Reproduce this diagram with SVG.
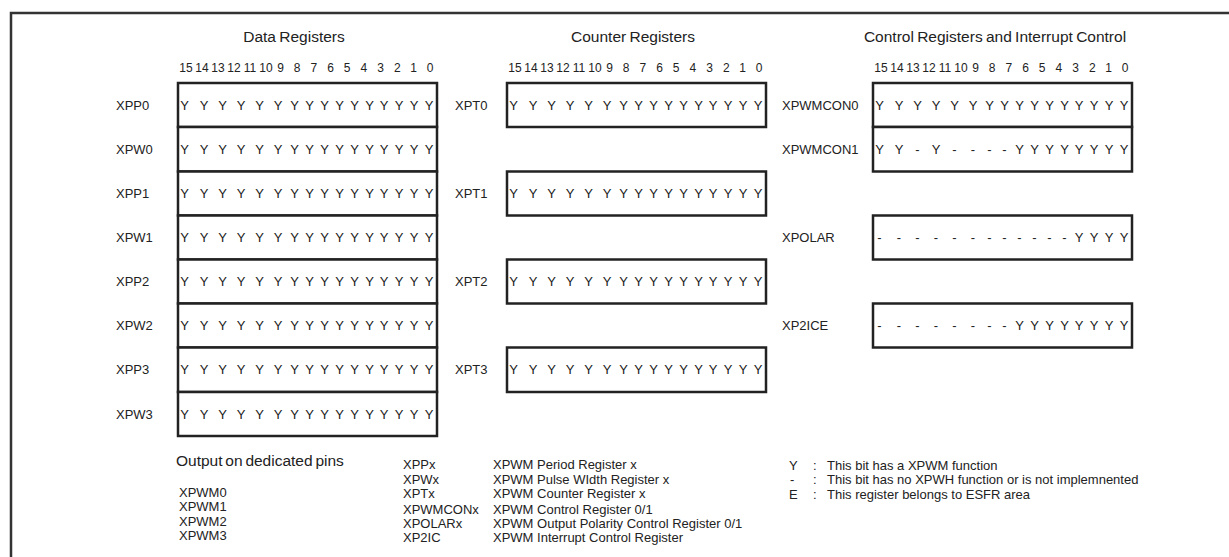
<svg xmlns="http://www.w3.org/2000/svg" width="1229" height="557" viewBox="0 0 1229 557">
<style>
text{font-family:"Liberation Sans",Arial,sans-serif;fill:#222}
.ttl{font-size:15.5px;text-anchor:middle;word-spacing:-1px}
.hdr{font-size:12px;text-anchor:middle}
.lbl{font-size:13px}
.bit{font-size:13px;text-anchor:middle}
.leg{font-size:13px}
.box{fill:#fff;stroke:#222;stroke-width:2.5}
.frame{fill:none;stroke:#333;stroke-width:2.5}
</style>
<defs>
<g id="hdrnums">
<text class="hdr" y="72"><tspan x="8">15</tspan><tspan x="24">14</tspan><tspan x="40">13</tspan><tspan x="56">12</tspan><tspan x="72">11</tspan><tspan x="88">10</tspan><tspan x="102.5">9</tspan><tspan x="119.2">8</tspan><tspan x="135.9">7</tspan><tspan x="152.5">6</tspan><tspan x="169.2">5</tspan><tspan x="185.9">4</tspan><tspan x="202.6">3</tspan><tspan x="219.3">2</tspan><tspan x="235.6">1</tspan><tspan x="252">0</tspan></text>
</g>
</defs>
<polyline class="frame" points="11,557 11,13 1229,13"/>

<g id="titles">
<text class="ttl" x="294" y="42">Data Registers</text>
<text class="ttl" x="633" y="42">Counter Registers</text>
<text class="ttl" x="995" y="42">Control Registers and Interrupt Control</text>
<use href="#hdrnums" x="178"/>
<use href="#hdrnums" x="507"/>
<use href="#hdrnums" x="873"/>
</g>

<g id="connectors"></g>

<!-- Data registers -->
<g id="XPP0"><text class="lbl" x="116" y="109.5">XPP0</text><rect class="box" x="178" y="83" width="259" height="44"/>
<text class="bit" y="109.5" x="184.5 204 222.5 241 259.5 278 294.5 309.5 324.5 339.5 354.5 369.5 384 399 414 429">YYYYYYYYYYYYYYYY</text></g>
<g id="XPW0"><text class="lbl" x="116" y="153.5">XPW0</text><rect class="box" x="178" y="127" width="259" height="44.5"/>
<text class="bit" y="153.5" x="184.5 204 222.5 241 259.5 278 294.5 309.5 324.5 339.5 354.5 369.5 384 399 414 429">YYYYYYYYYYYYYYYY</text></g>
<g id="XPP1"><text class="lbl" x="116" y="198">XPP1</text><rect class="box" x="178" y="171.5" width="259" height="44"/>
<text class="bit" y="198" x="184.5 204 222.5 241 259.5 278 294.5 309.5 324.5 339.5 354.5 369.5 384 399 414 429">YYYYYYYYYYYYYYYY</text></g>
<g id="XPW1"><text class="lbl" x="116" y="242">XPW1</text><rect class="box" x="178" y="215.5" width="259" height="44"/>
<text class="bit" y="242" x="184.5 204 222.5 241 259.5 278 294.5 309.5 324.5 339.5 354.5 369.5 384 399 414 429">YYYYYYYYYYYYYYYY</text></g>
<g id="XPP2"><text class="lbl" x="116" y="286">XPP2</text><rect class="box" x="178" y="259.5" width="259" height="44"/>
<text class="bit" y="286" x="184.5 204 222.5 241 259.5 278 294.5 309.5 324.5 339.5 354.5 369.5 384 399 414 429">YYYYYYYYYYYYYYYY</text></g>
<g id="XPW2"><text class="lbl" x="116" y="330">XPW2</text><rect class="box" x="178" y="303.5" width="259" height="44"/>
<text class="bit" y="330" x="184.5 204 222.5 241 259.5 278 294.5 309.5 324.5 339.5 354.5 369.5 384 399 414 429">YYYYYYYYYYYYYYYY</text></g>
<g id="XPP3"><text class="lbl" x="116" y="374">XPP3</text><rect class="box" x="178" y="347.5" width="259" height="44.5"/>
<text class="bit" y="374" x="184.5 204 222.5 241 259.5 278 294.5 309.5 324.5 339.5 354.5 369.5 384 399 414 429">YYYYYYYYYYYYYYYY</text></g>
<g id="XPW3"><text class="lbl" x="116" y="418.5">XPW3</text><rect class="box" x="178" y="392" width="259" height="44"/>
<text class="bit" y="418.5" x="184.5 204 222.5 241 259.5 278 294.5 309.5 324.5 339.5 354.5 369.5 384 399 414 429">YYYYYYYYYYYYYYYY</text></g>

<!-- Counter registers -->
<g id="XPT0"><text class="lbl" x="455" y="109.5">XPT0</text><rect class="box" x="507" y="83" width="259" height="44"/>
<text class="bit" y="109.5" x="513.5 533 551.5 570 588.5 607 623.5 638.5 653.5 668.5 683.5 698.5 713 728 743 758">YYYYYYYYYYYYYYYY</text></g>
<g id="XPT1"><text class="lbl" x="455" y="198">XPT1</text><rect class="box" x="507" y="171.5" width="259" height="44"/>
<text class="bit" y="198" x="513.5 533 551.5 570 588.5 607 623.5 638.5 653.5 668.5 683.5 698.5 713 728 743 758">YYYYYYYYYYYYYYYY</text></g>
<g id="XPT2"><text class="lbl" x="455" y="286">XPT2</text><rect class="box" x="507" y="259.5" width="259" height="44"/>
<text class="bit" y="286" x="513.5 533 551.5 570 588.5 607 623.5 638.5 653.5 668.5 683.5 698.5 713 728 743 758">YYYYYYYYYYYYYYYY</text></g>
<g id="XPT3"><text class="lbl" x="455" y="374">XPT3</text><rect class="box" x="507" y="347.5" width="259" height="44.5"/>
<text class="bit" y="374" x="513.5 533 551.5 570 588.5 607 623.5 638.5 653.5 668.5 683.5 698.5 713 728 743 758">YYYYYYYYYYYYYYYY</text></g>

<!-- Control registers -->
<g id="XPWMCON0"><text class="lbl" x="782" y="109.5">XPWMCON0</text><rect class="box" x="873" y="83" width="259" height="44"/>
<text class="bit" y="109.5" x="879.5 899 917.5 936 954.5 973 989.5 1004.5 1019.5 1034.5 1049.5 1064.5 1079 1094 1109 1124">YYYYYYYYYYYYYYYY</text></g>
<g id="XPWMCON1"><text class="lbl" x="782" y="153.5">XPWMCON1</text><rect class="box" x="873" y="127" width="259" height="44.5"/>
<text class="bit" y="153.5" x="879.5 899 917.5 936 954.5 973 989.5 1004.5 1019.5 1034.5 1049.5 1064.5 1079 1094 1109 1124">YY-Y----YYYYYYYY</text></g>
<g id="XPOLAR"><text class="lbl" x="782" y="242">XPOLAR</text><rect class="box" x="873" y="215.5" width="259" height="44"/>
<text class="bit" y="242" x="879.5 899 917.5 936 954.5 973 989.5 1004.5 1019.5 1034.5 1049.5 1064.5 1079 1094 1109 1124">------------YYYY</text></g>
<g id="XP2ICE"><text class="lbl" x="782" y="330">XP2ICE</text><rect class="box" x="873" y="303.5" width="259" height="44"/>
<text class="bit" y="330" x="879.5 899 917.5 936 954.5 973 989.5 1004.5 1019.5 1034.5 1049.5 1064.5 1079 1094 1109 1124">--------YYYYYYYY</text></g>

<!-- Legend -->
<g id="legend-pins">
<text x="176" y="466" style="font-size:15.5px;word-spacing:-1.5px">Output on dedicated pins</text>
<text class="lbl" x="179" y="497">XPWM0</text>
<text class="lbl" x="179" y="511">XPWM1</text>
<text class="lbl" x="179" y="525.5">XPWM2</text>
<text class="lbl" x="179" y="540">XPWM3</text>
</g>
<g id="legend-abbr">
<text class="lbl" x="403" y="469">XPPx</text>
<text class="lbl" x="403" y="483.5">XPWx</text>
<text class="lbl" x="403" y="497.5">XPTx</text>
<text class="lbl" x="403" y="514">XPWMCONx</text>
<text class="lbl" x="403" y="527.5">XPOLARx</text>
<text class="lbl" x="403" y="542">XP2IC</text>
<text class="leg" x="493" y="469">XPWM Period Register x</text>
<text class="leg" x="493" y="483.5">XPWM Pulse WIdth Register x</text>
<text class="leg" x="493" y="497.5">XPWM Counter Register x</text>
<text class="leg" x="493" y="514">XPWM Control Register 0/1</text>
<text class="leg" x="493" y="527.5">XPWM Output Polarity Control Register 0/1</text>
<text class="leg" x="493" y="542">XPWM Interrupt Control Register</text>
</g>
<g id="legend-symbols">
<text class="lbl" x="789" y="469.5">Y</text>
<text class="lbl" x="790" y="484">-</text>
<text class="lbl" x="789" y="498.5">E</text>
<text class="lbl" x="813" y="469.5">:</text>
<text class="lbl" x="813" y="484">:</text>
<text class="lbl" x="813" y="498.5">:</text>
<text class="leg" x="827" y="469.5">This bit has a XPWM function</text>
<text class="leg" x="827" y="484">This bit has no XPWH function or is not implemnented</text>
<text class="leg" x="827" y="498.5">This register belongs to ESFR area</text>
</g>
</svg>
